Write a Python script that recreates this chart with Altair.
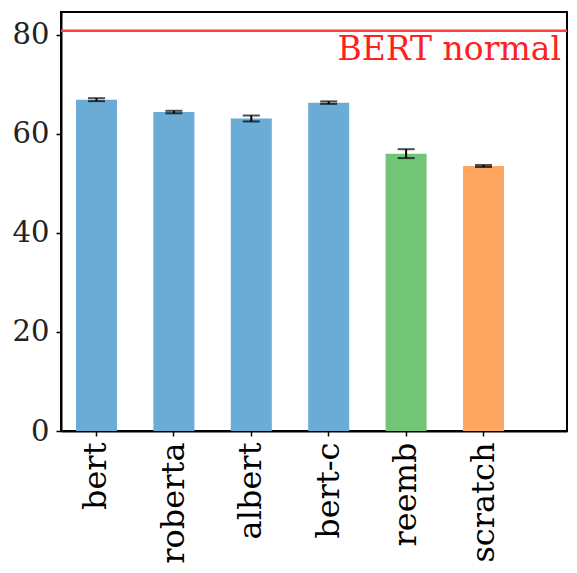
import altair as alt
import pandas as pd

names = ["bert", "roberta", "albert", "bert-c", "reemb", "scratch"]
means = [66.9, 64.4, 63.1, 66.3, 56.0, 53.5]
errs = [0.3, 0.25, 0.6, 0.25, 0.9, 0.2]
groups = ["pre", "pre", "pre", "pre", "reemb", "scratch"]
group_colors = {"pre": "#6aacd6", "reemb": "#72c476", "scratch": "#fda762"}
bert_normal = 80.8
bert_label = "BERT normal"
y_ticks = [0, 20, 40, 60, 80]

df = pd.DataFrame({
    "name": names,
    "mean": means,
    "lo": [m - e for m, e in zip(means, errs)],
    "hi": [m + e for m, e in zip(means, errs)],
    "group": groups,
})

W, H = 506, 419
FONT = "DejaVu Serif"

xscale = alt.Scale(domain=names, paddingInner=0.47, paddingOuter=0.5035, align=0.192)
yscale = alt.Scale(domain=[0, 84.6], nice=False, zero=True)

base = alt.Chart(df)

bars = base.mark_bar().encode(
    x=alt.X("name:N", scale=xscale, sort=names, title=None,
            axis=alt.Axis(labelAngle=270, labelAlign="right", labelBaseline="middle",
                          labelFont=FONT, labelFontSize=32, labelColor="black",
                          labelPadding=6, tickSize=5, tickWidth=1.5, tickColor="black",
                          domainColor="black", domainWidth=2)),
    y=alt.Y("mean:Q", scale=yscale, title=None,
            axis=alt.Axis(values=y_ticks, labelFont=FONT, labelFontSize=29,
                          labelColor="#222222", labelPadding=7, tickSize=5,
                          tickWidth=1.5, tickColor="black", grid=False,
                          domainColor="black", domainWidth=2)),
    color=alt.Color("group:N",
                    scale=alt.Scale(domain=list(group_colors.keys()),
                                    range=list(group_colors.values())),
                    legend=None),
)

err_line = base.mark_rule(color="black", strokeWidth=2).encode(
    x=alt.X("name:N", scale=xscale, sort=names),
    y="lo:Q",
    y2="hi:Q",
)
cap_lo = base.mark_tick(color="black", size=17, thickness=2).encode(
    x=alt.X("name:N", scale=xscale, sort=names),
    y=alt.Y("lo:Q", scale=yscale),
)
cap_hi = base.mark_tick(color="black", size=17, thickness=2).encode(
    x=alt.X("name:N", scale=xscale, sort=names),
    y=alt.Y("hi:Q", scale=yscale),
)

ref = alt.Chart(pd.DataFrame({"v": [bert_normal]})).mark_rule(
    color="#ff4040", strokeWidth=2.5
).encode(y=alt.Y("v:Q", scale=yscale))

ref_text = alt.Chart(pd.DataFrame({"v": [bert_normal], "t": [bert_label]})).mark_text(
    color="#ff2020", font=FONT, fontSize=33, align="right", baseline="top", dy=3, dx=-6
).encode(y=alt.Y("v:Q", scale=yscale), x=alt.value(W), text="t:N")

chart = alt.layer(bars, err_line, cap_lo, cap_hi, ref, ref_text).properties(
    width=W, height=H,
    autosize=alt.AutoSizeParams(type="none"),
    padding={"left": 53, "top": 4, "right": 2, "bottom": 132},
).configure(
    background="white",
    view=alt.ViewConfig(stroke="black", strokeWidth=2),
)

chart.save("out.html", embed_options={"renderer": "svg", "actions": False})
